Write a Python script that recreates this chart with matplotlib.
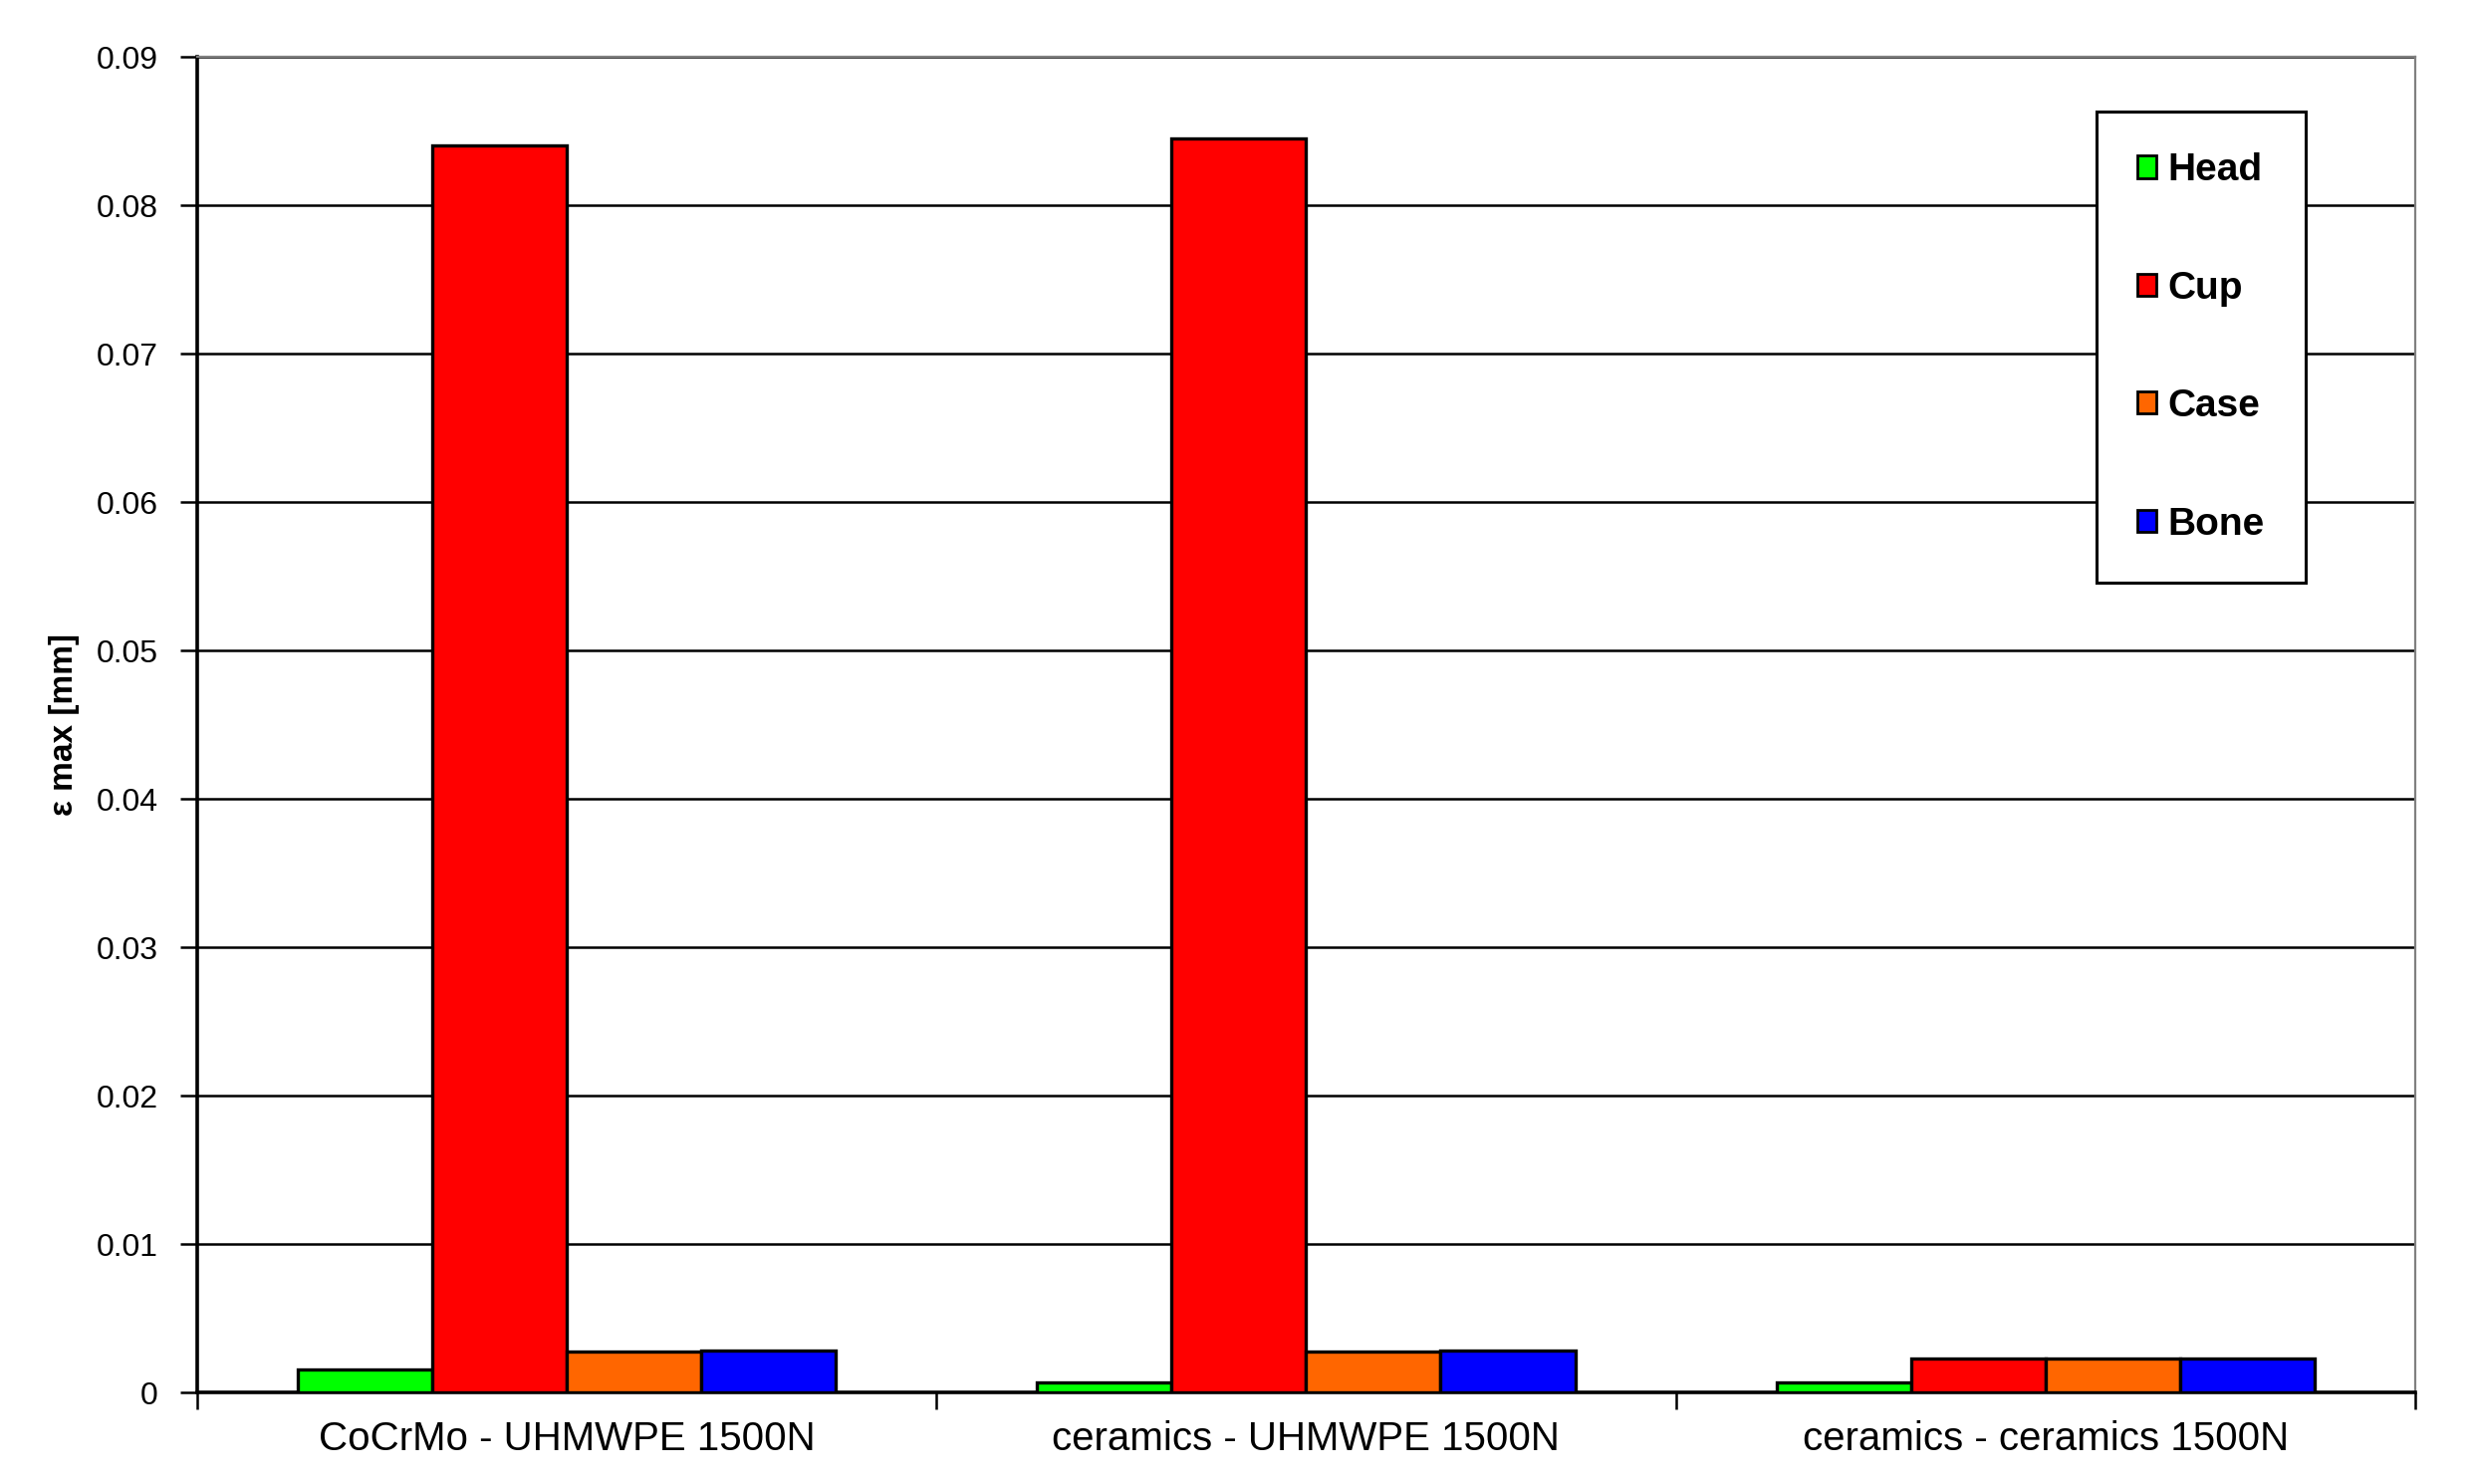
import matplotlib
matplotlib.use("Agg")
import matplotlib.pyplot as plt
from matplotlib.patches import Patch
import numpy as np

categories = ["CoCrMo - UHMWPE 1500N", "ceramics - UHMWPE 1500N", "ceramics - ceramics 1500N"]
series_names = ["Head", "Cup", "Case", "Bone"]
head = [0.00155, 0.0007, 0.0007]
cup = [0.0840, 0.0845, 0.00228]
case = [0.00275, 0.00275, 0.00228]
bone = [0.0028, 0.0028, 0.00228]
colors = ["#00FF00", "#FF0000", "#FF6600", "#0000FF"]
yticks = [0, 0.01, 0.02, 0.03, 0.04, 0.05, 0.06, 0.07, 0.08, 0.09]
ytick_labels = ["0", "0.01", "0.02", "0.03", "0.04", "0.05", "0.06", "0.07", "0.08", "0.09"]

plt.rcParams['font.family'] = ['Liberation Sans', 'DejaVu Sans']

fig = plt.figure(figsize=(12.41, 7.45), dpi=200)
ax = fig.add_axes([0.0797, 0.0616, 0.977 - 0.0797, 0.9617 - 0.0616])

x = np.arange(len(categories))
w = 0.182
data = [head, cup, case, bone]
for i, (vals, c, name) in enumerate(zip(data, colors, series_names)):
    ax.bar(x + (i - 1.5) * w, vals, width=w, color=c, edgecolor="black",
           linewidth=1.2, label=name, zorder=3)

ax.set_xlim(-0.5, 2.5)
ax.set_ylim(0, 0.09)
ax.set_yticks(yticks)
ax.set_yticklabels(ytick_labels, fontsize=11.5)
ax.yaxis.grid(True, color="black", linewidth=0.9, zorder=0)
ax.set_axisbelow(True)

ax.set_xticks([-0.5, 0.5, 1.5, 2.5])
ax.set_xticklabels([])
ax.set_xticks(x, minor=True)
ax.set_xticklabels(categories, minor=True, fontsize=14.5)
ax.tick_params(axis="x", which="minor", length=0, pad=10)
ax.tick_params(axis="x", which="major", length=6, width=0.9, direction="out")
ax.tick_params(axis="y", length=6, width=0.9, direction="out", pad=8)

for s in ["left", "bottom"]:
    ax.spines[s].set_color("black")
    ax.spines[s].set_linewidth(1.3)
for s in ["top", "right"]:
    ax.spines[s].set_color("#808080")
    ax.spines[s].set_linewidth(0.8)

ax.set_ylabel("ε max [mm]", fontsize=12, fontweight="bold", labelpad=6)

handles = [Patch(facecolor=c, edgecolor="black", linewidth=1.0) for c in colors]
leg = ax.legend(handles, series_names, loc="upper left",
                bbox_to_anchor=(0.848, 0.9245), bbox_transform=fig.transFigure,
                prop={"weight": "bold", "size": 14}, frameon=True, fancybox=False,
                edgecolor="black", framealpha=1, labelspacing=2.12,
                handlelength=0.5, handleheight=0.5, handletextpad=0.3,
                borderpad=1.05, borderaxespad=0)
leg.get_frame().set_linewidth(1.1)
leg.set_zorder(5)

fig.savefig("out.png", dpi=200)
